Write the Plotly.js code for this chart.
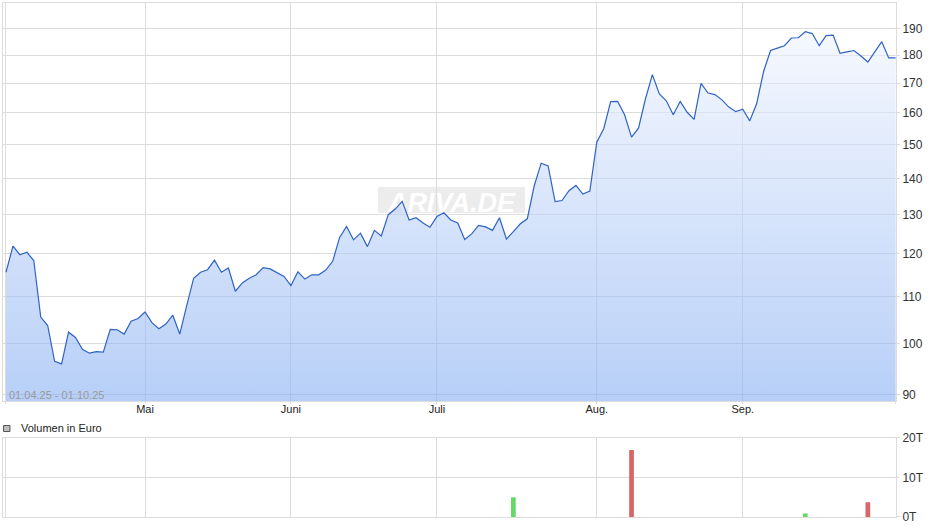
<!DOCTYPE html>
<html><head><meta charset="utf-8">
<script src="https://cdn.plot.ly/plotly-3.0.1.min.js"></script>
<style>html,body{margin:0;padding:0;background:#fff}#chart{width:940px;height:526px}</style>
</head><body><div id="chart"></div>
<script>
const dates = [
'2025-04-01','2025-04-02','2025-04-03','2025-04-04','2025-04-07','2025-04-08','2025-04-09','2025-04-10','2025-04-11','2025-04-14',
'2025-04-15','2025-04-16','2025-04-17','2025-04-22','2025-04-23','2025-04-24','2025-04-25','2025-04-28','2025-04-29','2025-04-30',
'2025-05-02','2025-05-05','2025-05-06','2025-05-07','2025-05-08','2025-05-09','2025-05-12','2025-05-13','2025-05-14','2025-05-15',
'2025-05-16','2025-05-19','2025-05-20','2025-05-21','2025-05-22','2025-05-23','2025-05-26','2025-05-27','2025-05-28','2025-05-29',
'2025-05-30','2025-06-02','2025-06-03','2025-06-04','2025-06-05','2025-06-06','2025-06-09','2025-06-10','2025-06-11','2025-06-12',
'2025-06-13','2025-06-16','2025-06-17','2025-06-18','2025-06-19','2025-06-20','2025-06-23','2025-06-24','2025-06-25','2025-06-26',
'2025-06-27','2025-06-30','2025-07-01','2025-07-02','2025-07-03','2025-07-04','2025-07-07','2025-07-08','2025-07-09','2025-07-10',
'2025-07-11','2025-07-14','2025-07-15','2025-07-16','2025-07-17','2025-07-18','2025-07-21','2025-07-22','2025-07-23','2025-07-24',
'2025-07-25','2025-07-28','2025-07-29','2025-07-30','2025-07-31','2025-08-01','2025-08-04','2025-08-05','2025-08-06','2025-08-07',
'2025-08-08','2025-08-11','2025-08-12','2025-08-13','2025-08-14','2025-08-15','2025-08-18','2025-08-19','2025-08-20','2025-08-21',
'2025-08-22','2025-08-25','2025-08-26','2025-08-27','2025-08-28','2025-08-29','2025-09-01','2025-09-02','2025-09-03','2025-09-04',
'2025-09-05','2025-09-08','2025-09-09','2025-09-10','2025-09-11','2025-09-12','2025-09-15','2025-09-16','2025-09-17','2025-09-18',
'2025-09-19','2025-09-22','2025-09-23','2025-09-24','2025-09-25','2025-09-26','2025-09-29','2025-09-30','2025-10-01'
];
const prices = [
115.6,121.9,119.8,120.4,118.4,105.5,103.7,96.4,95.9,102.3,
101.2,98.8,98.0,98.3,98.2,102.9,102.8,101.9,104.6,105.2,
106.6,104.3,103.0,104.0,105.9,101.9,108.0,114.2,115.6,116.2,
118.5,115.6,116.6,111.2,113.1,114.2,115.0,116.7,116.4,115.5,
114.6,112.5,115.7,114.0,115.0,115.0,116.1,118.2,124.1,126.9,
123.5,125.2,121.8,125.9,124.5,130.0,131.5,133.6,128.6,129.2,
127.8,126.7,129.5,130.5,128.6,127.8,123.6,125.0,127.2,126.8,
125.9,129.2,123.7,125.6,127.6,128.9,137.9,144.4,143.6,133.5,
133.8,136.5,138.0,135.6,136.4,150.7,154.9,163.7,163.8,159.4,
152.3,155.1,164.6,173.0,166.3,164.0,159.4,163.8,160.2,157.9,
169.9,166.6,166.1,164.3,161.9,160.4,161.2,157.4,163.0,174.1,
181.7,182.6,183.5,186.4,186.5,188.8,188.1,183.5,187.3,187.5,
180.7,181.2,181.7,179.7,177.5,181.2,185.0,179.0,179.0
];
const monthTickDates = ['2025-04-01','2025-05-02','2025-06-02','2025-07-01','2025-08-01','2025-09-01','2025-10-01'];
const monthTickLabels = ['','Mai','Juni','Juli','Aug.','Sep.',''];
const priceTicks = [90,100,110,120,130,140,150,160,170,180,190];
const volumeDates = ['2025-07-16','2025-08-08','2025-09-12','2025-09-25'];
const volumeValues = [5.0,16.9,0.9,3.7];
const volumeTicks = [0,10,20];
const volumeTickLabels = ['0T','10T','20T'];
const rangeLabel = '01.04.25 - 01.10.25';
const volumeLabel = 'Volumen in Euro';
const watermark = 'ARIVA.DE';

const volumeColors = volumeDates.map(d => {
  const i = dates.indexOf(d);
  return prices[i] >= prices[i-1] ? '#66d966' : '#d96666';
});

const font = 'Liberation Sans, Arial, sans-serif';
const grid = '#dcdcdc';
const xr = [-0.43, 128.05];
const yMin = 88.9, yMax = 200.2;

const traces = [
  {x: dates, y: prices, type: 'scatter', mode: 'lines', xaxis: 'x', yaxis: 'y',
   line: {color: '#2f63c4', width: 1.2},
   fill: 'tozeroy',
   fillgradient: {type: 'vertical', start: yMin, stop: yMax,
     colorscale: [[0, 'rgba(135,175,242,0.6)'], [1, 'rgba(247,249,255,0.6)']]},
   hoverinfo: 'skip'},
  {x: volumeDates, y: volumeValues, type: 'bar', xaxis: 'x2', yaxis: 'y2',
   marker: {color: volumeColors, line: {width: 0}}, width: 0.68, hoverinfo: 'skip'}
];

const layout = {
  width: 940, height: 526,
  margin: {l: 3, r: 44, t: 3, b: 9},
  paper_bgcolor: '#fff', plot_bgcolor: '#fff',
  showlegend: false,
  font: {family: font, size: 11, color: '#222'},
  xaxis: {type: 'category', categoryorder: 'array', categoryarray: dates,
    range: xr, anchor: 'y', tickmode: 'array', tickvals: monthTickDates, ticktext: monthTickLabels,
    showgrid: true, gridcolor: grid, gridwidth: 1, ticks: 'outside', ticklen: 2, tickcolor: grid,
    ticklabelstandoff: -4,
    showline: true, linecolor: grid, mirror: true, zeroline: false,
    tickfont: {family: font, size: 11, color: '#222'}, fixedrange: true},
  yaxis: {type: 'log', domain: [0.2257, 1], range: [Math.log10(yMin), Math.log10(yMax)],
    side: 'right', tickmode: 'array', tickvals: priceTicks, ticktext: priceTicks.map(String),
    showgrid: true, gridcolor: grid, gridwidth: 1, ticks: 'outside', ticklen: 3, tickcolor: grid,
    showline: true, linecolor: grid, mirror: true, zeroline: false,
    tickfont: {family: font, size: 12, color: '#333'}, fixedrange: true},
  xaxis2: {type: 'category', categoryorder: 'array', categoryarray: dates,
    range: xr, anchor: 'y2', tickmode: 'array', tickvals: monthTickDates, ticktext: monthTickLabels,
    showticklabels: false, showgrid: true, gridcolor: grid, ticks: '',
    showline: true, linecolor: grid, mirror: true, zeroline: false, fixedrange: true},
  yaxis2: {domain: [0, 0.1543], range: [0, 20], side: 'right', anchor: 'x2',
    tickmode: 'array', tickvals: volumeTicks, ticktext: volumeTickLabels,
    showgrid: true, gridcolor: grid, ticks: 'outside', ticklen: 3, tickcolor: grid,
    showline: true, linecolor: grid, mirror: true, zeroline: false,
    tickfont: {family: font, size: 12, color: '#333'}, fixedrange: true},
  shapes: [
    {type: 'rect', xref: 'paper', yref: 'paper', x0: 0.0006, x1: 0.0078, y0: 0.1663, y1: 0.178,
     fillcolor: '#bdbdbd', line: {color: '#555', width: 1}},
    {type: 'rect', xref: 'paper', yref: 'paper', x0: 0.4199, x1: 0.5846, y0: 0.5914, y1: 0.642,
     layer: 'between', fillcolor: 'rgba(200,200,200,0.35)', line: {width: 0},
     label: {text: watermark, textposition: 'middle center',
       font: {family: font, size: 27, color: '#ffffff', weight: 'bold', style: 'italic'}}}
  ],
  annotations: [
    {text: rangeLabel, xref: 'paper', yref: 'paper', x: 0.0045, y: 0.2374, xanchor: 'left', yanchor: 'middle',
     showarrow: false, font: {family: font, size: 11, color: '#9a9a9a'}},
    {text: volumeLabel, xref: 'paper', yref: 'paper', x: 0.0179, y: 0.1722, xanchor: 'left', yanchor: 'middle',
     showarrow: false, font: {family: font, size: 11, color: '#222'}}
  ]
};

Plotly.newPlot('chart', traces, layout, {staticPlot: true, displayModeBar: false});
</script>
</body></html>
